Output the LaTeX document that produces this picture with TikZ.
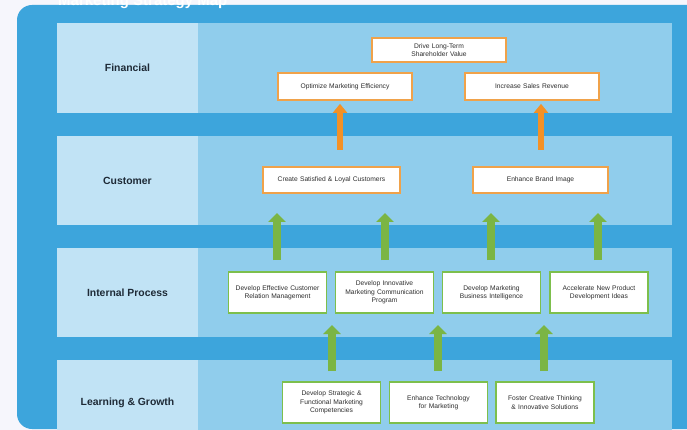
\documentclass[tikz,border=0pt]{standalone}
\usepackage{fontspec}
\setmainfont{Liberation Sans}
\usetikzlibrary{arrows.meta}
\definecolor{pagebg}{HTML}{F6F6FC}
\definecolor{outerblue}{HTML}{3DA5DC}
\definecolor{labelcol}{HTML}{C1E3F5}
\definecolor{rowcol}{HTML}{90CDEC}
\definecolor{orangeA}{HTML}{F39126}
\definecolor{orangeB}{HTML}{F0A24A}
\definecolor{greenA}{HTML}{7BB544}
\definecolor{greenB}{HTML}{7DBF4C}
\definecolor{txt}{HTML}{2E2E2E}
\definecolor{labtxt}{HTML}{1E2A36}
\begin{document}
\begin{tikzpicture}[x=1pt,y=-1pt,
  rowlabel/.style={font=\fontsize{10.4}{12}\selectfont\bfseries, text=labtxt},
  obox/.style={draw=orangeB, line width=1.7pt, fill=white, text=txt,
     font=\fontsize{6.7}{8.2}\selectfont, align=center, inner sep=1pt,
     minimum width=#1, text width=#1-6pt},
  gbox/.style={draw=greenB, line width=1.7pt, fill=white, text=txt,
     font=\fontsize{6.7}{8.3}\selectfont, align=center, inner sep=1pt,
     minimum width=98pt, minimum height=41pt, text width=94pt},
  oarrow/.style={draw=orangeA, line width=6pt, -{Triangle[width=14pt,length=9pt]}},
  garrow/.style={draw=greenA, line width=8pt, -{Triangle[width=17pt,length=9pt]}}
]
\useasboundingbox (0,0) rectangle (687,430);
\fill[pagebg] (0,0) rectangle (687,430);
\fill[outerblue, rounded corners=15pt] (17,5) rectangle (720,429);
\node[anchor=base west, text=white, font=\fontsize{15}{17}\selectfont\bfseries, inner sep=0pt] (title) at (58,6) {Marketing Strategy Map};

% rows
\foreach \t/\b in {23/113, 136/225, 248/337, 360/431}{
  \fill[labelcol] (57,\t) rectangle (198,\b);
  \fill[rowcol] (198,\t) rectangle (672,\b);
}
\node[rowlabel] (lfin) at (127.5,68) {Financial};
\node[rowlabel] (lcus) at (127.5,180.5) {Customer};
\node[rowlabel] (lint) at (127.5,292.5) {Internal Process};
\node[rowlabel] (llrn) at (127.5,402.5) {Learning \& Growth};

% financial
\node[obox=134pt, minimum height=24pt] (drive) at (439,50) {Drive Long-Term\\Shareholder Value};
\node[obox=134pt, minimum height=27pt] (opt) at (345,86.5) {Optimize Marketing Efficiency};
\node[obox=134pt, minimum height=27pt] (inc) at (532,86.5) {Increase Sales Revenue};

% customer
\node[obox=137pt, minimum height=26pt] (cust) at (331.5,180) {Create Satisfied \& Loyal Customers};
\node[obox=135pt, minimum height=26pt] (brand) at (540.5,180) {Enhance Brand Image};

% internal
\node[gbox] (ip1) at (277.5,292.5) {Develop Effective Customer\\Relation Management};
\node[gbox] (ip2) at (384.5,292.5) {Develop Innovative\\Marketing Communication\\Program};
\node[gbox] (ip3) at (491.5,292.5) {Develop Marketing\\Business Intelligence};
\node[gbox] (ip4) at (599,292.5) {Accelerate New Product\\Development Ideas};

% learning
\node[gbox] (lg1) at (331.5,402.5) {Develop Strategic \&\\Functional Marketing\\Competencies};
\node[gbox] (lg2) at (438.5,402.5) {Enhance Technology\\for Marketing};
\node[gbox] (lg3) at (545,402.5) {Foster Creative Thinking\\\& Innovative Solutions};

% orange arrows
\coordinate (oa1) at (340,150);
\coordinate (oa2) at (541,150);
\draw[oarrow, shorten >=3pt] (oa1) -- (oa1 |- opt.south);
\draw[oarrow, shorten >=3pt] (oa2) -- (oa2 |- inc.south);

% green arrows internal -> customer
\foreach \x [count=\i] in {277,385,491,598}{
  \coordinate (gs\i) at (\x,260);
  \coordinate (ge\i) at (\x,213);
  \draw[garrow] (gs\i) -- (ge\i);
}
% green arrows learning -> internal
\foreach \x [count=\i] in {332,438,544}{
  \coordinate (ls\i) at (\x,371);
  \coordinate (le\i) at (\x,325);
  \draw[garrow] (ls\i) -- (le\i);
}
\end{tikzpicture}
\end{document}
